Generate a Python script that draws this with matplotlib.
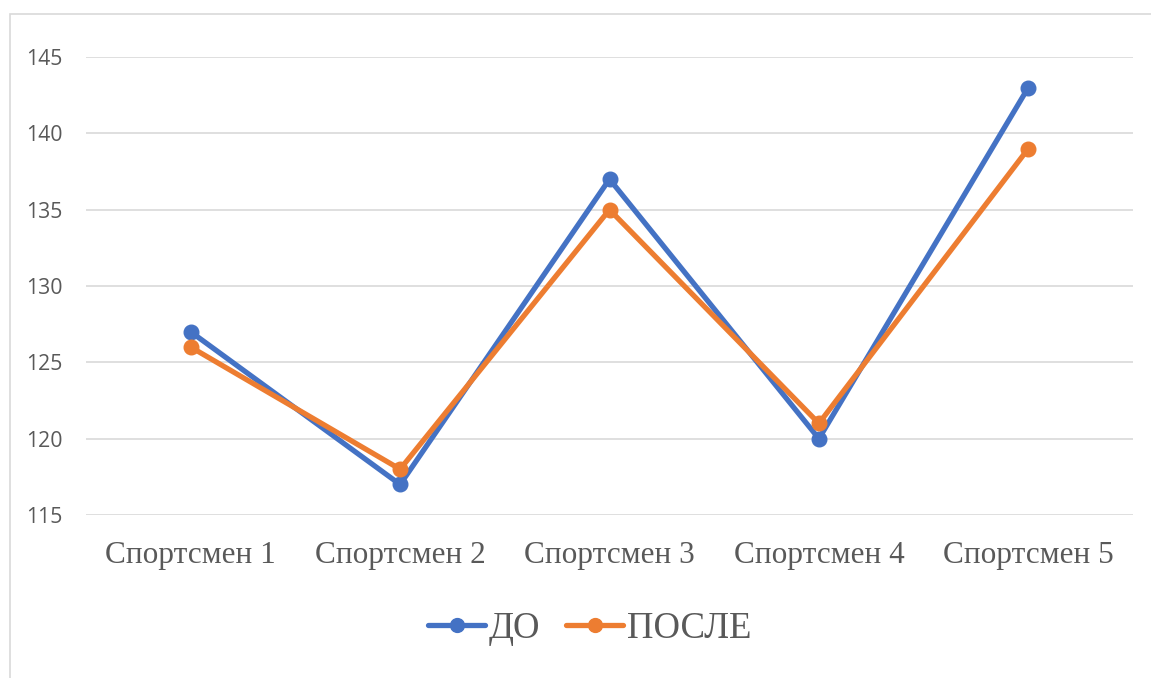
import numpy as np
import matplotlib.pyplot as plt
from matplotlib.patches import Rectangle

categories = ['Спортсмен 1', 'Спортсмен 2', 'Спортсмен 3', 'Спортсмен 4', 'Спортсмен 5']
do_values = [127, 117, 137, 120, 143]
posle_values = [126, 118, 135, 121, 139]
series_names = ['ДО', 'ПОСЛЕ']
yticks = [115, 120, 125, 130, 135, 140, 145]

fig = plt.figure(figsize=(11.51, 6.78), dpi=100)
ax = fig.add_axes([86/1151, 1 - 515/678, (1133 - 86)/1151, (515 - 57)/678])

# chart frame (cropped on right and bottom)
fig.patches.append(Rectangle((10/1151, -0.05), 1.1, 1 - 13.5/678 + 0.05,
                             transform=fig.transFigure, fill=False,
                             edgecolor='#D9D9D9', linewidth=1.2))

ind = np.arange(len(categories))
ax.plot(ind, do_values, color='#4472C4', lw=3.8, marker='o', ms=10.5,
        label=series_names[0], solid_capstyle='round')
ax.plot(ind, posle_values, color='#ED7D31', lw=3.8, marker='o', ms=10.5,
        label=series_names[1], solid_capstyle='round')

ax.set_xlim(-0.5, len(categories) - 0.5)
ax.set_ylim(115, 145)
ax.set_yticks(yticks)
ax.set_xticks(ind)
ax.set_xticklabels(categories, fontsize=22.5, family='Liberation Serif', color='#595959')
ax.tick_params(axis='y', labelsize=15.3, labelcolor='#595959', length=0, pad=17)
ax.tick_params(axis='x', length=0, pad=19)
for lab in ax.get_yticklabels():
    lab.set_family('Open Sans')
ax.grid(axis='y', color='#D9D9D9', lw=1.2)
ax.set_axisbelow(True)
for s in ax.spines.values():
    s.set_visible(False)

leg = fig.legend(loc='center', bbox_to_anchor=(590/1151, 1 - 629/678), ncol=2, frameon=False,
                 prop={'family': 'Liberation Serif', 'size': 26.5}, handlelength=1.55,
                 handletextpad=0.1, columnspacing=0.7, markerscale=0.95)
for t in leg.get_texts():
    t.set_color('#595959')

fig.savefig('out.png', dpi=100)
